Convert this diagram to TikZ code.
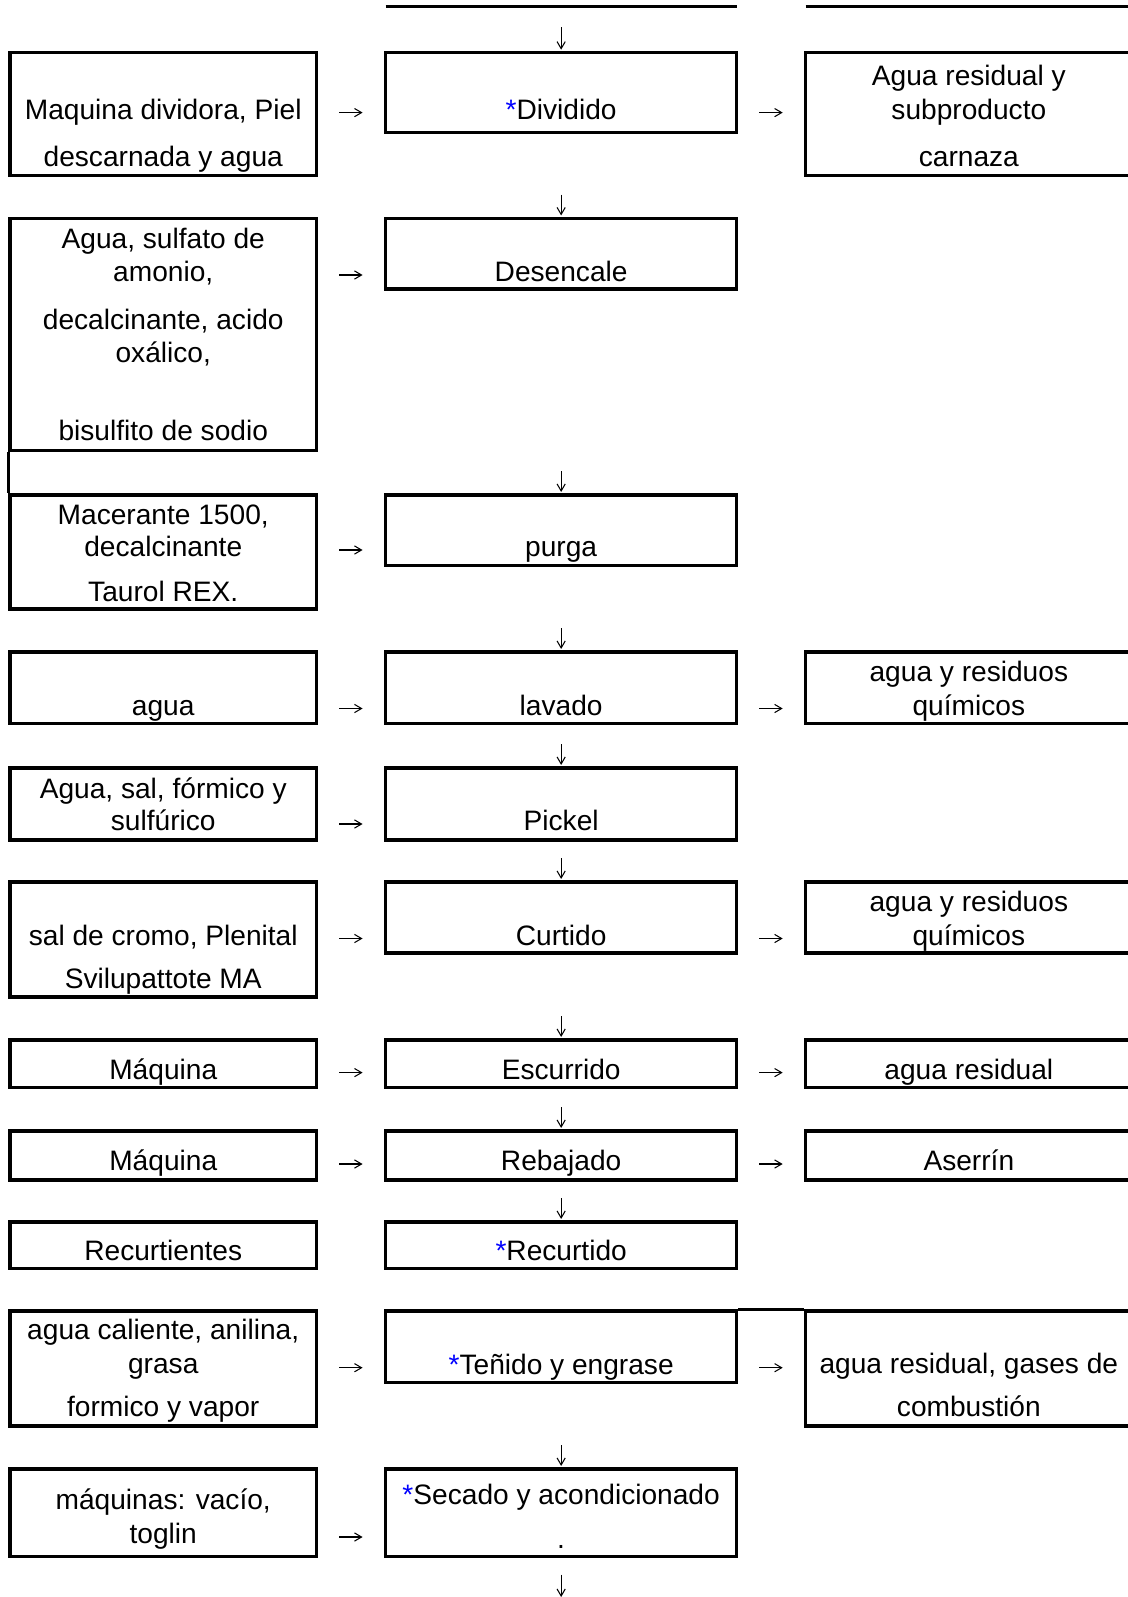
\documentclass[tikz,border=0pt]{standalone}
\usepackage{fontspec}
\setmainfont{Liberation Sans}
\usetikzlibrary{arrows.meta,fit}
\newlength\pxu
\setlength\pxu{0.015cm}
\newcommand{\bluestar}{\textcolor{blue}{*}}
\tikzset{
  box/.style={draw, line width=1.3pt, inner sep=0pt},
  rule/.style={line width=1.3pt},
  txt/.style={font=\fontsize{12}{14.25}\selectfont, inner sep=0pt, anchor=base, align=center},
  flow/.style={line width=0.45pt, -{Straight Barb[length=3pt,width=3.5pt]}, shorten <=21\pxu, shorten >=21.5\pxu},
  vflow/.style={line width=0.45pt, -{Straight Barb[length=3pt,width=3.5pt]}, shorten <=#1\pxu, shorten >=1.5\pxu}
}
\begin{document}
\begin{tikzpicture}[x=0.015cm, y=-0.015cm]
\useasboundingbox (0,0) rectangle (1128,1597);
\clip (0,0) rectangle (1128,1597);

% Bottom edges left over from the previous page
\draw[rule] (385.6,6.7) -- (736.7,6.7);
\draw[rule] (805.7,6.7) -- (1132,6.7);
\coordinate (prev) at (561.15,6.7);
\coordinate (next) at (561.15,1598.5);

% Row: Dividido
\node[box, fit={(10,52.7) (316.5,175.7)}] (maqdiv) {};
\node[box, fit={(385.6,52.7) (736.7,132.4)}] (dividido) {};
\node[box, fit={(805.7,52.7) (1132,175.7)}] (carnaza) {};
\node[txt] (maqdiv-t) at (163.25,166.7) {Maquina dividora, Piel\\[6pt]descarnada y agua};
\node[txt] (dividido-t) at (561.15,119.3) {\bluestar Dividido};
\node[txt] (carnaza-t) at (968.85,166.7) {Agua residual y\\subproducto\\[6pt]carnaza};
\coordinate (arw1) at (0,112.6);

% Row: Desencale
\node[box, fit={(10,218.5) (316.5,450.5)}] (sulfato) {};
\node[box, fit={(385.6,218.5) (736.7,289)}] (desencale) {};
\node[txt] (sulfato-t) at (163.25,440.7) {Agua, sulfato de\\amonio,\\[6pt]decalcinante, acido\\oxálico,\\[19pt]bisulfito de sodio};
\node[txt] (desencale-t) at (561.15,281.7) {Desencale};
\coordinate (arw2) at (0,275);

% Row: purga
\node[box, fit={(10,495) (316.5,609)}] (macerante) {};
\node[box, fit={(385.6,495) (736.7,565.7)}] (purga) {};
\node[txt] (macerante-t) at (163.25,601.7) {Macerante 1500,\\[-0.7pt]decalcinante\\[5pt]Taurol REX.};
\node[txt] (purga-t) at (561.15,556.7) {purga};
\coordinate (arw3) at (0,550);

% Row: lavado
\node[box, fit={(10,652) (316.5,723.7)}] (agua) {};
\node[box, fit={(385.6,652) (736.7,723.7)}] (lavado) {};
\node[box, fit={(805.7,652) (1132,723.7)}] (quimicos) {};
\node[txt] (agua-t) at (163.25,715) {agua};
\node[txt] (lavado-t) at (561.15,715) {lavado};
\node[txt] (quimicos-t) at (968.85,715) {agua y residuos\\químicos};
\coordinate (arw4) at (0,708.5);

% Row: Pickel
\node[box, fit={(10,768) (316.5,840)}] (formico) {};
\node[box, fit={(385.6,768) (736.7,840)}] (pickel) {};
\node[txt] (formico-t) at (163.25,830.7) {Agua, sal, fórmico y\\[-0.4pt]sulfúrico};
\node[txt] (pickel-t) at (561.15,830.7) {Pickel};
\coordinate (arw5) at (0,824);

% Row: Curtido
\node[box, fit={(10,882) (316.5,997)}] (cromo) {};
\node[box, fit={(385.6,882) (736.7,953)}] (curtido) {};
\node[box, fit={(805.7,882) (1132,953)}] (quimicosb) {};
\node[txt] (cromo-t) at (163.25,988.3) {sal de cromo, Plenital\\[4.2pt]Svilupattote MA};
\node[txt] (curtido-t) at (561.15,945) {Curtido};
\node[txt] (quimicosb-t) at (968.85,945) {agua y residuos\\químicos};
\coordinate (arw6) at (0,938.5);

% Row: Escurrido
\node[box, fit={(10,1040) (316.5,1087.7)}] (maquina) {};
\node[box, fit={(385.6,1040) (736.7,1087.7)}] (escurrido) {};
\node[box, fit={(805.7,1040) (1132,1087.7)}] (residual) {};
\node[txt] (maquina-t) at (163.25,1079.3) {Máquina};
\node[txt] (escurrido-t) at (561.15,1079.3) {Escurrido};
\node[txt] (residual-t) at (968.85,1079.3) {agua residual};
\coordinate (arw7) at (0,1072.6);

% Row: Rebajado
\node[box, fit={(10,1131) (316.5,1180)}] (maquinab) {};
\node[box, fit={(385.6,1131) (736.7,1180)}] (rebajado) {};
\node[box, fit={(805.7,1131) (1132,1180)}] (aserrin) {};
\node[txt] (maquinab-t) at (163.25,1170.7) {Máquina};
\node[txt] (rebajado-t) at (561.15,1170.7) {Rebajado};
\node[txt] (aserrin-t) at (968.85,1170.7) {Aserrín};
\coordinate (arw8) at (0,1164);

% Row: Recurtido
\node[box, fit={(10,1222) (316.5,1268.7)}] (recurtientes) {};
\node[box, fit={(385.6,1222) (736.7,1268.7)}] (recurtido) {};
\node[txt] (recurtientes-t) at (163.25,1260) {Recurtientes};
\node[txt] (recurtido-t) at (561.15,1260) {\bluestar Recurtido};

% Row: Tenido y engrase
\node[box, fit={(10,1311) (316.5,1426)}] (anilina) {};
\node[box, fit={(385.6,1311) (736.7,1382.7)}] (tenido) {};
\node[box, fit={(805.7,1311) (1132,1426)}] (gases) {};
\draw[rule] (tenido.north east) -- (gases.north west);
\node[txt] (anilina-t) at (163.25,1416.7) {agua caliente, anilina,\\grasa\\[4.3pt]formico y vapor};
\node[txt] (tenido-t) at (561.15,1374) {\bluestar Teñido y engrase};
\node[txt] (gases-t) at (968.85,1416.7) {agua residual, gases de\\[4pt]combustión};
\coordinate (arw10) at (0,1367.7);

% Row: Secado
\node[box, fit={(10,1469) (316.5,1556.7)}] (vacio) {};
\node[box, fit={(385.6,1469) (736.7,1556.7)}] (secado) {};
\node[txt] (vacio-t) at (163.25,1543.3) {máquinas: vacío,\\toglin};
\node[txt] (secado-t) at (561.15,1548) {\bluestar Secado y acondicionado\\[4.5pt].};
\coordinate (arw11) at (0,1537);

% Left border carried between the two upper boxes
\draw[rule] (sulfato.south west) -- (macerante.north west);

% Horizontal arrows
\draw[flow] (maqdiv.east |- arw1) -- (dividido.west |- arw1);
\draw[flow] (dividido.east |- arw1) -- (carnaza.west |- arw1);
\draw[flow] (sulfato.east |- arw2) -- (desencale.west |- arw2);
\draw[flow] (macerante.east |- arw3) -- (purga.west |- arw3);
\draw[flow] (agua.east |- arw4) -- (lavado.west |- arw4);
\draw[flow] (lavado.east |- arw4) -- (quimicos.west |- arw4);
\draw[flow] (formico.east |- arw5) -- (pickel.west |- arw5);
\draw[flow] (cromo.east |- arw6) -- (curtido.west |- arw6);
\draw[flow] (curtido.east |- arw6) -- (quimicosb.west |- arw6);
\draw[flow] (maquina.east |- arw7) -- (escurrido.west |- arw7);
\draw[flow] (escurrido.east |- arw7) -- (residual.west |- arw7);
\draw[flow] (maquinab.east |- arw8) -- (rebajado.west |- arw8);
\draw[flow] (rebajado.east |- arw8) -- (aserrin.west |- arw8);
\draw[flow] (anilina.east |- arw10) -- (tenido.west |- arw10);
\draw[flow] (tenido.east |- arw10) -- (gases.west |- arw10);
\draw[flow] (vacio.east |- arw11) -- (secado.west |- arw11);

% Vertical arrows
\draw[vflow=20.5] (prev) -- (dividido);
\draw[vflow=60.6] (dividido) -- (desencale);
\draw[vflow=180.5] (desencale) -- (purga);
\draw[vflow=60.8] (purga) -- (lavado);
\draw[vflow=18.8] (lavado) -- (pickel);
\draw[vflow=16.5] (pickel) -- (curtido);
\draw[vflow=61.5] (curtido) -- (escurrido);
\draw[vflow=17.8] (escurrido) -- (rebajado);
\draw[vflow=16.5] (rebajado) -- (recurtido);
\draw[vflow=60.8] (tenido) -- (secado);
\draw[vflow=16.3] (secado) -- (next);
\end{tikzpicture}
\end{document}
